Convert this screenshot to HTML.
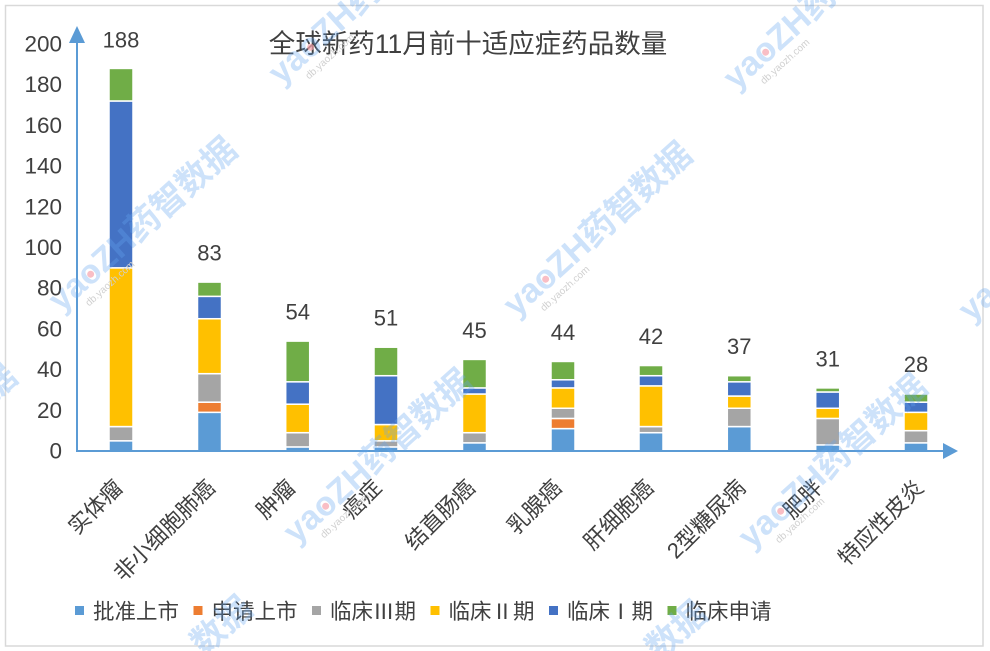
<!DOCTYPE html>
<html>
<head>
<meta charset="utf-8">
<style>
html,body{margin:0;padding:0;background:#fff;width:990px;height:651px;overflow:hidden;}
svg{display:block;}
text{font-family:"Liberation Sans","Noto Sans CJK SC",sans-serif;}
.cjk{font-family:"Noto Sans CJK SC","Liberation Sans",sans-serif;}
.rn{font-family:"WenQuanYi Zen Hei","Noto Sans CJK SC",sans-serif;}
</style>
</head>
<body>
<svg width="990" height="651" viewBox="0 0 990 651" xmlns="http://www.w3.org/2000/svg" overflow="hidden">
<rect x="0" y="0" width="990" height="651" fill="#fff"/>
<rect x="5.5" y="5.5" width="977.5" height="640.5" fill="#fff" stroke="#d9d9d9" stroke-width="1.5"/>

<!-- Title -->
<text x="468" y="53" font-size="26.5" fill="#404040" text-anchor="middle">全球新药11月前十适应症药品数量</text>

<!-- Y tick labels -->
<g font-size="22.5" fill="#404040" text-anchor="end">
<text x="62" y="458.5">0</text>
<text x="62" y="417.8">20</text>
<text x="62" y="377.1">40</text>
<text x="62" y="336.4">60</text>
<text x="62" y="295.7">80</text>
<text x="62" y="255">100</text>
<text x="62" y="214.3">120</text>
<text x="62" y="173.6">140</text>
<text x="62" y="132.9">160</text>
<text x="62" y="92.2">180</text>
<text x="62" y="51.5">200</text>
</g>

<!-- Bars -->
<g stroke="#fff" stroke-width="1.5">
<rect x="109" y="440.83" width="24" height="10.18" fill="#5B9BD5"/>
<rect x="109" y="426.58" width="24" height="14.25" fill="#A5A5A5"/>
<rect x="109" y="267.85" width="24" height="158.73" fill="#FFC000"/>
<rect x="109" y="100.98" width="24" height="166.87" fill="#4472C4"/>
<rect x="109" y="68.42" width="24" height="32.56" fill="#70AD47"/>

<rect x="197.5" y="412.33" width="24" height="38.67" fill="#5B9BD5"/>
<rect x="197.5" y="402.16" width="24" height="10.17" fill="#ED7D31"/>
<rect x="197.5" y="373.67" width="24" height="28.49" fill="#A5A5A5"/>
<rect x="197.5" y="318.72" width="24" height="54.95" fill="#FFC000"/>
<rect x="197.5" y="296.34" width="24" height="22.38" fill="#4472C4"/>
<rect x="197.5" y="282.09" width="24" height="14.25" fill="#70AD47"/>

<rect x="285.7" y="446.93" width="24" height="4.07" fill="#5B9BD5"/>
<rect x="285.7" y="432.68" width="24" height="14.25" fill="#A5A5A5"/>
<rect x="285.7" y="404.19" width="24" height="28.49" fill="#FFC000"/>
<rect x="285.7" y="381.81" width="24" height="22.38" fill="#4472C4"/>
<rect x="285.7" y="341.11" width="24" height="40.7" fill="#70AD47"/>

<rect x="374" y="446.93" width="24" height="4.07" fill="#5B9BD5"/>
<rect x="374" y="440.82" width="24" height="6.11" fill="#A5A5A5"/>
<rect x="374" y="424.54" width="24" height="16.28" fill="#FFC000"/>
<rect x="374" y="375.7" width="24" height="48.84" fill="#4472C4"/>
<rect x="374" y="347.21" width="24" height="28.49" fill="#70AD47"/>

<rect x="462.5" y="442.86" width="24" height="8.14" fill="#5B9BD5"/>
<rect x="462.5" y="432.68" width="24" height="10.18" fill="#A5A5A5"/>
<rect x="462.5" y="394.02" width="24" height="38.66" fill="#FFC000"/>
<rect x="462.5" y="387.91" width="24" height="6.11" fill="#4472C4"/>
<rect x="462.5" y="359.42" width="24" height="28.49" fill="#70AD47"/>

<rect x="551" y="428.61" width="24" height="22.39" fill="#5B9BD5"/>
<rect x="551" y="418.44" width="24" height="10.17" fill="#ED7D31"/>
<rect x="551" y="408.26" width="24" height="10.18" fill="#A5A5A5"/>
<rect x="551" y="387.91" width="24" height="20.35" fill="#FFC000"/>
<rect x="551" y="379.77" width="24" height="8.14" fill="#4472C4"/>
<rect x="551" y="361.46" width="24" height="18.31" fill="#70AD47"/>

<rect x="639" y="432.68" width="24" height="18.32" fill="#5B9BD5"/>
<rect x="639" y="426.58" width="24" height="6.1" fill="#A5A5A5"/>
<rect x="639" y="385.88" width="24" height="40.7" fill="#FFC000"/>
<rect x="639" y="375.7" width="24" height="10.18" fill="#4472C4"/>
<rect x="639" y="365.53" width="24" height="10.17" fill="#70AD47"/>

<rect x="727.3" y="426.58" width="24" height="24.42" fill="#5B9BD5"/>
<rect x="727.3" y="408.26" width="24" height="18.32" fill="#A5A5A5"/>
<rect x="727.3" y="396.05" width="24" height="12.21" fill="#FFC000"/>
<rect x="727.3" y="381.81" width="24" height="14.24" fill="#4472C4"/>
<rect x="727.3" y="375.7" width="24" height="6.11" fill="#70AD47"/>

<rect x="815.7" y="444.89" width="24" height="6.11" fill="#5B9BD5"/>
<rect x="815.7" y="418.44" width="24" height="26.45" fill="#A5A5A5"/>
<rect x="815.7" y="408.26" width="24" height="10.18" fill="#FFC000"/>
<rect x="815.7" y="391.98" width="24" height="16.28" fill="#4472C4"/>
<rect x="815.7" y="387.91" width="24" height="4.07" fill="#70AD47"/>

<rect x="904" y="442.86" width="24" height="8.14" fill="#5B9BD5"/>
<rect x="904" y="430.65" width="24" height="12.21" fill="#A5A5A5"/>
<rect x="904" y="412.33" width="24" height="18.32" fill="#FFC000"/>
<rect x="904" y="402.16" width="24" height="10.17" fill="#4472C4"/>
<rect x="904" y="394.02" width="24" height="8.14" fill="#70AD47"/>
</g>

<!-- Total labels -->
<g font-size="22" fill="#404040" text-anchor="middle">
<text x="121" y="47.5">188</text>
<text x="209.5" y="260.6">83</text>
<text x="297.7" y="319.6">54</text>
<text x="386" y="325.7">51</text>
<text x="474.5" y="337.9">45</text>
<text x="563" y="340">44</text>
<text x="651" y="344">42</text>
<text x="739.3" y="354.2">37</text>
<text x="827.7" y="366.4">31</text>
<text x="916" y="372">28</text>
</g>

<!-- Axes -->
<g fill="#5B9BD5" stroke="none">
<rect x="76" y="40" width="2" height="412"/>
<polygon points="77,26 69,43 85,43"/>
<rect x="76" y="450" width="870" height="2"/>
<polygon points="958,451 943,443 943,459"/>
</g>

<!-- X labels -->
<g font-size="22" fill="#404040" text-anchor="end">
<text transform="translate(124,489) rotate(-45)">实体瘤</text>
<text transform="translate(216.5,489) rotate(-45)">非小细胞肺癌</text>
<text transform="translate(296.7,489) rotate(-45)">肿瘤</text>
<text transform="translate(383,489) rotate(-45)">癌症</text>
<text transform="translate(476.5,489) rotate(-45)">结直肠癌</text>
<text transform="translate(563,489) rotate(-45)">乳腺癌</text>
<text transform="translate(655,489) rotate(-45)">肝细胞癌</text>
<text transform="translate(747,489) rotate(-45)">2型糖尿病</text>
<text transform="translate(823.7,489) rotate(-45)">肥胖</text>
<text transform="translate(925,489) rotate(-45)">特应性皮炎</text>
</g>

<!-- Legend -->
<g font-size="21.5" fill="#404040">
<rect x="75" y="606" width="9" height="9" fill="#5B9BD5"/>
<text class="cjk" x="93" y="619">批准上市</text>
<rect x="193.5" y="606" width="9" height="9" fill="#ED7D31"/>
<text class="cjk" x="211.5" y="619">申请上市</text>
<rect x="312" y="606" width="9" height="9" fill="#A5A5A5"/>
<text class="cjk" x="330" y="619">临床<tspan class="rn">Ⅲ</tspan>期</text>
<rect x="430.5" y="606" width="9" height="9" fill="#FFC000"/>
<text class="cjk" x="448.5" y="619">临床<tspan class="rn">Ⅱ</tspan>期</text>
<rect x="549" y="606" width="9" height="9" fill="#4472C4"/>
<text class="cjk" x="567" y="619">临床<tspan class="rn">Ⅰ</tspan>期</text>
<rect x="667.5" y="606" width="9" height="9" fill="#70AD47"/>
<text class="cjk" x="685.5" y="619">临床申请</text>
</g>

<!-- Watermarks -->
<defs>
<g id="wm">
<text x="0" y="0" font-size="34" font-weight="bold" fill="#64a5f0" fill-opacity="0.32">yaoZH药智数据</text>
<circle cx="48" cy="-9" r="3.5" fill="#f6a3ac" fill-opacity="0.7"/>
<text x="25" y="14" font-size="10" fill="#d0d0d0">db.yaozh.com</text>
</g>
</defs>
<use href="#wm" transform="translate(281,86) rotate(-42)"/>
<use href="#wm" transform="translate(736,91) rotate(-42)"/>
<use href="#wm" transform="translate(61,313) rotate(-42)"/>
<use href="#wm" transform="translate(516,318) rotate(-42)"/>
<use href="#wm" transform="translate(971,323) rotate(-42)"/>
<use href="#wm" transform="translate(-159,540) rotate(-42)"/>
<use href="#wm" transform="translate(296,545) rotate(-42)"/>
<use href="#wm" transform="translate(751,550) rotate(-42)"/>
<g font-size="34" font-weight="bold" fill="#64a5f0" fill-opacity="0.32">
<text transform="translate(76,772) rotate(-42)" x="172" y="-10" dy="10">数据</text>
<text transform="translate(531,777) rotate(-42)" x="172" y="-10" dy="10">数据</text>
</g>
</svg>
</body>
</html>
